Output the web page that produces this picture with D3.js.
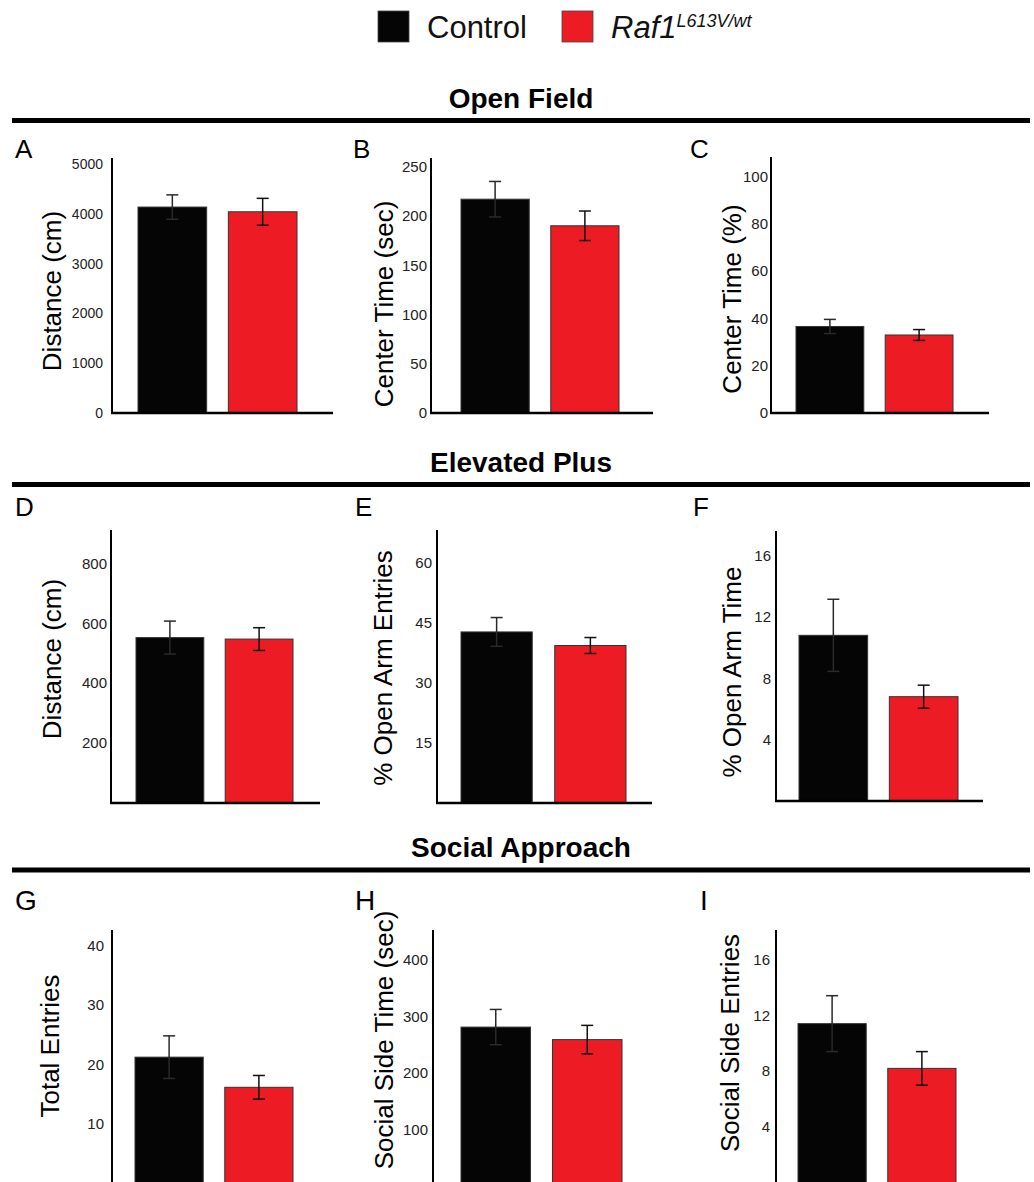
<!doctype html>
<html>
<head>
<meta charset="utf-8"/>
<title>Raf1 behaviour</title>
<style>
body{margin:0;background:#fff;}
text{font-family:"Liberation Sans",Arial,sans-serif;}
</style>
<script src="https://cdn.jsdelivr.net/npm/d3@7"></script>
</head>
<body>
<script type="text/javascript">
// values (mean and SEM)
var panelLetters = ["A","B","C","D","E","F","G","H","I"];
var yTitles = ["Distance (cm)","Center Time (sec)","Center Time (%)",
               "Distance (cm)","% Open Arm Entries","% Open Arm Time",
               "Total Entries","Social Side Time (sec)","Social Side Entries"];
var groups = ["Control","Raf1"];
var controlMean = [4140, 217, 36.6, 552, 42.8, 10.8, 21.2, 281, 11.4];
var controlSem  = [245, 18, 3.0, 55, 3.6, 2.35, 3.6, 31, 2.0];
var mutantMean  = [4045, 190, 33.0, 547, 39.4, 6.8, 16.1, 259, 8.2];
var mutantSem   = [270, 15, 2.3, 38, 2.0, 0.75, 2.0, 25, 1.2];
var yMax = [5126, 258.8, 108.3, 911, 68.3, 17.6, 42.7, 451.6, 18.1];
var yTicks = [[0,1000,2000,3000,4000,5000],[0,50,100,150,200,250],[0,20,40,60,80,100],
              [200,400,600,800],[15,30,45,60],[4,8,12,16],
              [10,20,30,40],[100,200,300,400],[4,8,12,16]];
var sections = ["Open Field","Elevated Plus","Social Approach"];
var legendMain = ["Control","Raf1"];
var legendSup = ["","L613V/wt"];
var colors = ["#050505","#ED1C24"];

// page layout (bottom row: x axis falls below the crop)
var layout = [
  {x0:112, b0:138, b1:297, end:333, top:158, bottom:413, pad:9, tf:14, lx:61, ly:291, ax:15, ay:158, xaxis:true},
  {x0:431, b0:461, b1:619, end:653, top:158, bottom:413, pad:4, tf:15, lx:393, ly:304, ax:353, ay:158, xaxis:true},
  {x0:771, b0:796, b1:953, end:989, top:157, bottom:413, pad:3, tf:15, lx:741, ly:299, ax:690, ay:158, xaxis:true},
  {x0:111, b0:136, b1:293, end:320, top:530, bottom:803, pad:4, tf:15, lx:61, ly:659, ax:15, ay:516, xaxis:true},
  {x0:437, b0:461, b1:626, end:652, top:530, bottom:803, pad:5, tf:15, lx:392, ly:668, ax:355, ay:516, xaxis:true},
  {x0:776, b0:799, b1:958, end:983, top:531, bottom:801, pad:5, tf:15, lx:741, ly:672, ax:693, ay:516, xaxis:true},
  {x0:112, b0:135, b1:293, end:320, top:930, bottom:1182.5, pad:8, tf:15, lx:59, ly:1046, ax:15, ay:910, xaxis:false},
  {x0:433, b0:461, b1:622, end:652, top:930, bottom:1187, pad:5, tf:15, lx:393, ly:1040, ax:355, ay:910, xaxis:false},
  {x0:776, b0:798, b1:956, end:983, top:930, bottom:1183, pad:6, tf:15, lx:739, ly:1043, ax:700, ay:910, xaxis:false}
];
var sectionY = [108, 472, 857];
var ruleY = [120.5, 484.5, 870];

var svg = d3.select("body")
    .append("svg")
    .attr("width", 1034)
    .attr("height", 1182);

// legend
var leg = svg.append("g");
var legX = [378, 562];
legendMain.forEach(function(d,i){
    leg.append("rect")
        .attr("x", legX[i]).attr("y", 11)
        .attr("width", 31).attr("height", 31)
        .attr("fill", colors[i])
        .attr("stroke", "#444").attr("stroke-width", 0.8);
    var t = leg.append("text")
        .attr("x", legX[i] + 49).attr("y", 38)
        .attr("font-size", 31)
        .attr("fill", "#111")
        .style("font-style", i == 1 ? "italic" : "normal")
        .text(d);
    if (legendSup[i] != "")
        t.append("tspan")
            .attr("y", 27)
            .attr("font-size", 18)
            .text(legendSup[i]);
});

// section headers
sections.forEach(function(s,i){
    svg.append("text")
        .attr("x", 521).attr("y", sectionY[i])
        .attr("text-anchor", "middle")
        .attr("font-size", 28)
        .attr("font-weight", "bold")
        .attr("fill", "#000")
        .text(s);
    svg.append("line")
        .attr("x1", 12).attr("x2", 1030)
        .attr("y1", ruleY[i]).attr("y2", ruleY[i])
        .attr("stroke", "#000")
        .attr("stroke-width", 5);
});

// panels
for (var p = 0; p < 9; p++)
{
    var L = layout[p];
    var g = svg.append("g");

    var y = d3.scaleLinear().domain([0, yMax[p]]).range([L.bottom, L.top]);
    var x = d3.scaleBand().domain(groups).range([L.b0, L.b1]).paddingInner(0.24);

    var means = [controlMean[p], mutantMean[p]];
    var sems = [controlSem[p], mutantSem[p]];

    g.selectAll("rect.bar")
        .data(groups)
        .enter()
        .append("rect")
        .attr("class", "bar")
        .attr("x", function(d){ return x(d); })
        .attr("y", function(d,i){ return y(means[i]); })
        .attr("width", x.bandwidth())
        .attr("height", function(d,i){ return y(0) - y(means[i]); })
        .attr("fill", function(d,i){ return colors[i]; })
        .attr("stroke", "#333")
        .attr("stroke-width", 1);

    // error bars
    groups.forEach(function(d,i){
        var cx = x(d) + x.bandwidth()/2;
        var hi = y(means[i] + sems[i]), lo = y(means[i] - sems[i]);
        var col = i == 0 ? "#2a2a2a" : "#111";
        g.append("line").attr("x1", cx).attr("x2", cx).attr("y1", hi).attr("y2", lo)
            .attr("stroke", col).attr("stroke-width", 1.5);
        g.append("line").attr("x1", cx - 6).attr("x2", cx + 6).attr("y1", hi).attr("y2", hi)
            .attr("stroke", col).attr("stroke-width", 1.5);
        g.append("line").attr("x1", cx - 6).attr("x2", cx + 6).attr("y1", lo).attr("y2", lo)
            .attr("stroke", col).attr("stroke-width", 1.5);
    });

    // axes
    var ax = g.append("g")
        .attr("transform", "translate(" + L.x0 + ",0)")
        .call(d3.axisLeft(y).tickValues(yTicks[p]).tickFormat(d3.format("d")).tickSize(0).tickPadding(L.pad));
    ax.select(".domain").remove();
    ax.selectAll("text")
        .attr("font-size", L.tf)
        .attr("fill", "#222")
        .style("font-family", "'Liberation Sans',Arial,sans-serif");

    g.append("line")
        .attr("x1", L.x0).attr("x2", L.x0)
        .attr("y1", L.top).attr("y2", L.bottom + 1)
        .attr("stroke", "#000").attr("stroke-width", 2);
    if (L.xaxis)
        g.append("line")
            .attr("x1", L.x0 - 1).attr("x2", L.end)
            .attr("y1", L.bottom).attr("y2", L.bottom)
            .attr("stroke", "#000").attr("stroke-width", 2.5);

    // y title
    g.append("text")
        .attr("transform", "translate(" + L.lx + "," + L.ly + ") rotate(-90)")
        .attr("text-anchor", "middle")
        .attr("font-size", 26)
        .attr("fill", "#000")
        .text(yTitles[p]);

    // panel letter
    g.append("text")
        .attr("x", L.ax).attr("y", L.ay)
        .attr("font-size", p >= 6 ? 28 : 26)
        .attr("fill", "#000")
        .text(panelLetters[p]);
}
</script>
</body>
</html>
